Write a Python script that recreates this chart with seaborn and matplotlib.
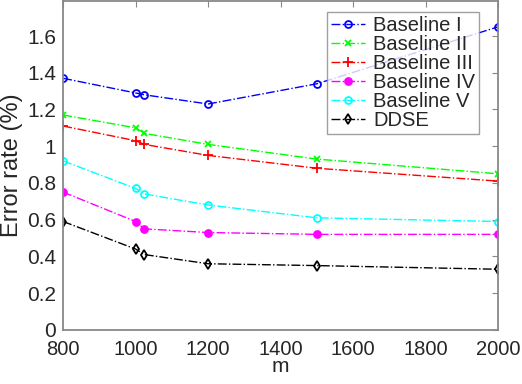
import matplotlib
matplotlib.use("Agg")
import matplotlib.pyplot as plt
import seaborn as sns
import pandas as pd

# data
m = [800, 1000, 1024, 1200, 1500, 2000]
baseline_1 = [1.37, 1.29, 1.28, 1.23, 1.34, 1.65]
baseline_2 = [1.17, 1.10, 1.07, 1.01, 0.93, 0.85]
baseline_3 = [1.11, 1.03, 1.01, 0.95, 0.88, 0.81]
baseline_4 = [0.75, 0.59, 0.55, 0.53, 0.52, 0.52]
baseline_5 = [0.92, 0.77, 0.74, 0.68, 0.61, 0.59]
ddse = [0.59, 0.44, 0.41, 0.36, 0.35, 0.33]

names = ["Baseline I", "Baseline II", "Baseline III", "Baseline IV", "Baseline V", "DDSE"]
series = [baseline_1, baseline_2, baseline_3, baseline_4, baseline_5, ddse]

sns.set_style("white")
plt.rcParams["font.family"] = ["Liberation Sans", "DejaVu Sans"]

styles = {
    "Baseline I": dict(color="#0000ff", marker="o", mfc="none", ms=5),
    "Baseline II": dict(color="#00ff00", marker="x", mfc="none", ms=5),
    "Baseline III": dict(color="#ff0000", marker="+", mfc="none", ms=7),
    "Baseline IV": dict(color="#ff00ff", marker="o", mfc="#ff00ff", ms=5),
    "Baseline V": dict(color="#00ffff", marker="o", mfc="none", ms=5),
    "DDSE": dict(color="#000000", marker="d", mfc="none", ms=5),
}

fig = plt.figure(figsize=(5.22, 3.84), dpi=100)
ax = fig.add_axes([0.121, 0.141, 0.833, 0.856])

for name, vals in zip(names, series):
    df = pd.DataFrame({"m": m, "err": vals})
    st = styles[name]
    sns.lineplot(data=df, x="m", y="err", ax=ax, label=name,
                 color=st["color"], marker=st["marker"],
                 markerfacecolor=st["mfc"], markeredgecolor=st["color"],
                 markersize=st["ms"], markeredgewidth=1.3,
                 linestyle="-.", linewidth=1.0)

ax.set_xlim(800, 2000)
ax.set_ylim(0, 1.79)
ax.set_xticks([800, 1000, 1200, 1400, 1600, 1800, 2000])
ax.set_yticks([0, 0.2, 0.4, 0.6, 0.8, 1.0, 1.2, 1.4, 1.6])
ax.set_yticklabels(["0", "0.2", "0.4", "0.6", "0.8", "1", "1.2", "1.4", "1.6"])
ax.tick_params(direction="in", length=4, labelsize=15, colors="#888888",
               labelcolor="#262626", top=True, right=True)
ax.tick_params(axis="x", pad=7, labelsize=14.5)
ax.tick_params(axis="y", pad=5)
for sp in ax.spines.values():
    sp.set_visible(True)
    sp.set_color("#888888")
    sp.set_linewidth(1.3)

ax.set_xlabel("m", fontsize=15, color="#262626", labelpad=-1)
ax.set_ylabel("Error rate (%)", fontsize=17, color="#262626", labelpad=3)

leg = ax.legend(loc="upper right", bbox_to_anchor=(0.957, 0.967),
                fontsize=14.5, frameon=True, fancybox=False,
                borderpad=0.2, labelspacing=0.0, handlelength=1.7,
                handletextpad=0.4, borderaxespad=0)
leg.get_frame().set_edgecolor("#888888")
leg.get_frame().set_linewidth(1.0)

fig.savefig("out.png", dpi=100)
